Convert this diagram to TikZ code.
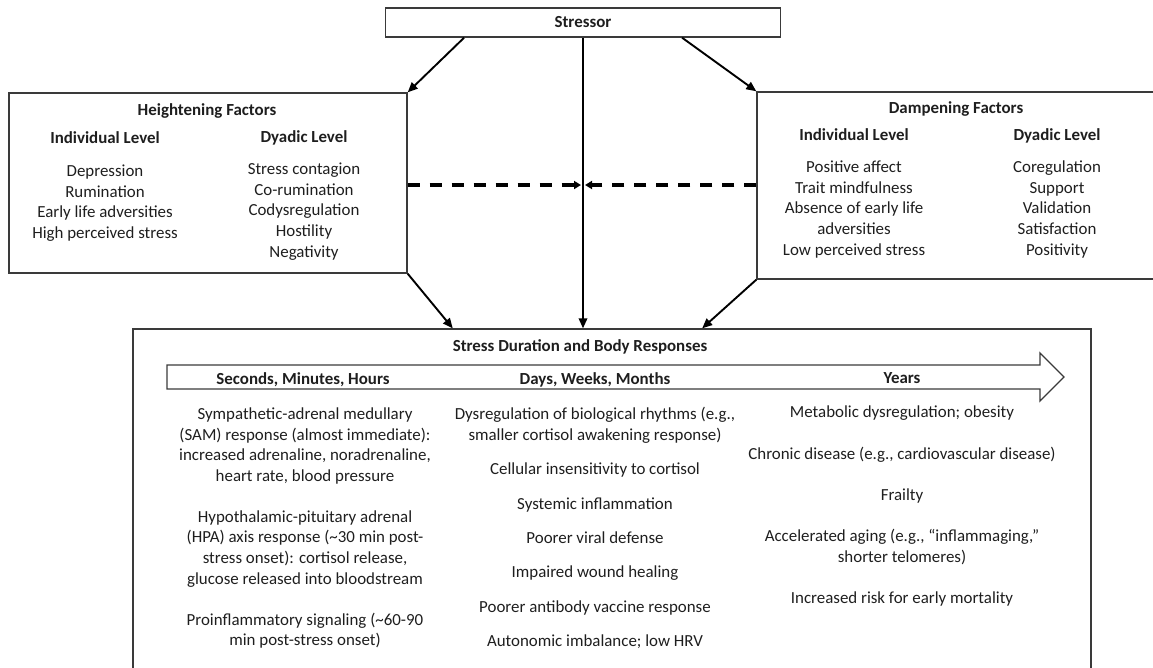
\documentclass[tikz,border=0pt]{standalone}
\usepackage{fontspec}
\setmainfont{Carlito}
\usetikzlibrary{arrows.meta,calc}
\definecolor{ink}{HTML}{1E1E1E}
\definecolor{edge}{HTML}{3A3A3A}
\begin{document}
\begin{tikzpicture}[x=1pt,y=-1pt,
  box/.style={draw=edge,line width=1.4pt,inner sep=0pt},
  txt/.style={font=\fontsize{16.9}{20.6}\selectfont,text=ink,align=center,inner sep=0pt,anchor=north},
  hd/.style={txt,font=\fontsize{16.9}{20.6}\selectfont\bfseries},
  arr/.style={line width=1.9pt,draw=black,-{Triangle[length=10pt,width=8.5pt]}},
  darr/.style={line width=3.4pt,draw=black,dash pattern=on 12pt off 10pt,-{Triangle[length=7pt,width=8pt]}}]
\clip (0,0) rectangle (1153,667);

% boxes
\node[box,minimum width=395pt,minimum height=29pt,font=\fontsize{16.9}{20.6}\selectfont\bfseries,text=ink] (stressor) at (583,22.5) {Stressor};
\node[box,minimum width=398pt,minimum height=180pt] (hbox) at (208,183) {};
\node[box,minimum width=403pt,minimum height=187pt] (dbox) at (958.5,185.5) {};
\node[box,minimum width=958pt,minimum height=339.5pt] (bbox) at (612,498.75) {};
\coordinate (mid) at (583,185);

% connectors
\draw[arr] ($(stressor.south west)!0.2!(stressor.south east)$) -- (hbox.north east);
\draw[arr] ($(stressor.south west)!0.75!(stressor.south east)$) -- (dbox.north west);
\draw[arr] (stressor.south) -- (stressor.south |- bbox.north);
\draw[darr] (hbox.east |- mid) -- ([xshift=-2pt]mid);
\draw[darr] (dbox.west |- mid) -- ([xshift=2pt]mid);
\draw[arr] (hbox.south east) -- ($(bbox.north west)!0.334!(bbox.north east)$);
\draw[arr] (dbox.south west) -- ($(bbox.north west)!0.594!(bbox.north east)$);

% heightening factors
\node[hd] (htitle) at (207,101) {\strut Heightening Factors};
\node[hd] (hil) at (105,129) {\strut Individual Level};
\node[hd] (hdl) at (304,128) {\strut Dyadic Level};
\node[txt] (hit) at (105,162) {\strut Depression\\Rumination\\Early life adversities\\High perceived stress};
\node[txt] (hdt) at (304,160) {\strut Stress contagion\\Co-rumination\\Codysregulation\\Hostility\\Negativity};

% dampening factors
\node[hd] (dtitle) at (956,99) {\strut Dampening Factors};
\node[hd] (dil) at (854,126) {\strut Individual Level};
\node[hd] (ddl) at (1057,126) {\strut Dyadic Level};
\node[txt] (dit) at (854,158) {\strut Positive affect\\Trait mindfulness\\Absence of early life\\adversities\\Low perceived stress};
\node[txt] (ddt) at (1057,158) {\strut Coregulation\\Support\\Validation\\Satisfaction\\Positivity};

% duration box
\node[hd] (btitle) at (580,337) {\strut Stress Duration and Body Responses};
\draw[edge,line width=1.3pt] (167,365) -- (1040,365) -- (1040,353) -- (1064,377) -- (1040,401) -- (1040,389) -- (167,389) -- cycle;
\node[hd] (c1h) at (303,370) {\strut Seconds, Minutes, Hours};
\node[hd] (c2h) at (595,370) {\strut Days, Weeks, Months};
\node[hd] (c3h) at (902,369) {\strut Years};

\node[txt] (c1) at (305,405) {\strut Sympathetic-adrenal medullary\\(SAM) response (almost immediate):\\increased adrenaline, noradrenaline,\\heart rate, blood pressure\\[20.3pt]
Hypothalamic-pituitary adrenal\\(HPA) axis response (\textasciitilde30 min post-\\stress onset): cortisol release,\\glucose released into bloodstream\\[20.3pt]
Proinflammatory signaling (\textasciitilde60-90\\min post-stress onset)};

\node[txt] (c2) at (595,405) {\strut Dysregulation of biological rhythms (e.g.,\\smaller cortisol awakening response)\\[13.8pt]
Cellular insensitivity to cortisol\\[13.8pt]
Systemic inflammation\\[13.8pt]
Poorer viral defense\\[13.8pt]
Impaired wound healing\\[13.8pt]
Poorer antibody vaccine response\\[13.8pt]
Autonomic imbalance; low HRV};

\node[txt] (c3) at (902,403) {\strut Metabolic dysregulation; obesity\\[20.8pt]
Chronic disease (e.g., cardiovascular disease)\\[20.8pt]
Frailty\\[20.8pt]
Accelerated aging (e.g., “inflammaging,”\\shorter telomeres)\\[20.8pt]
Increased risk for early mortality};
\end{tikzpicture}
\end{document}
